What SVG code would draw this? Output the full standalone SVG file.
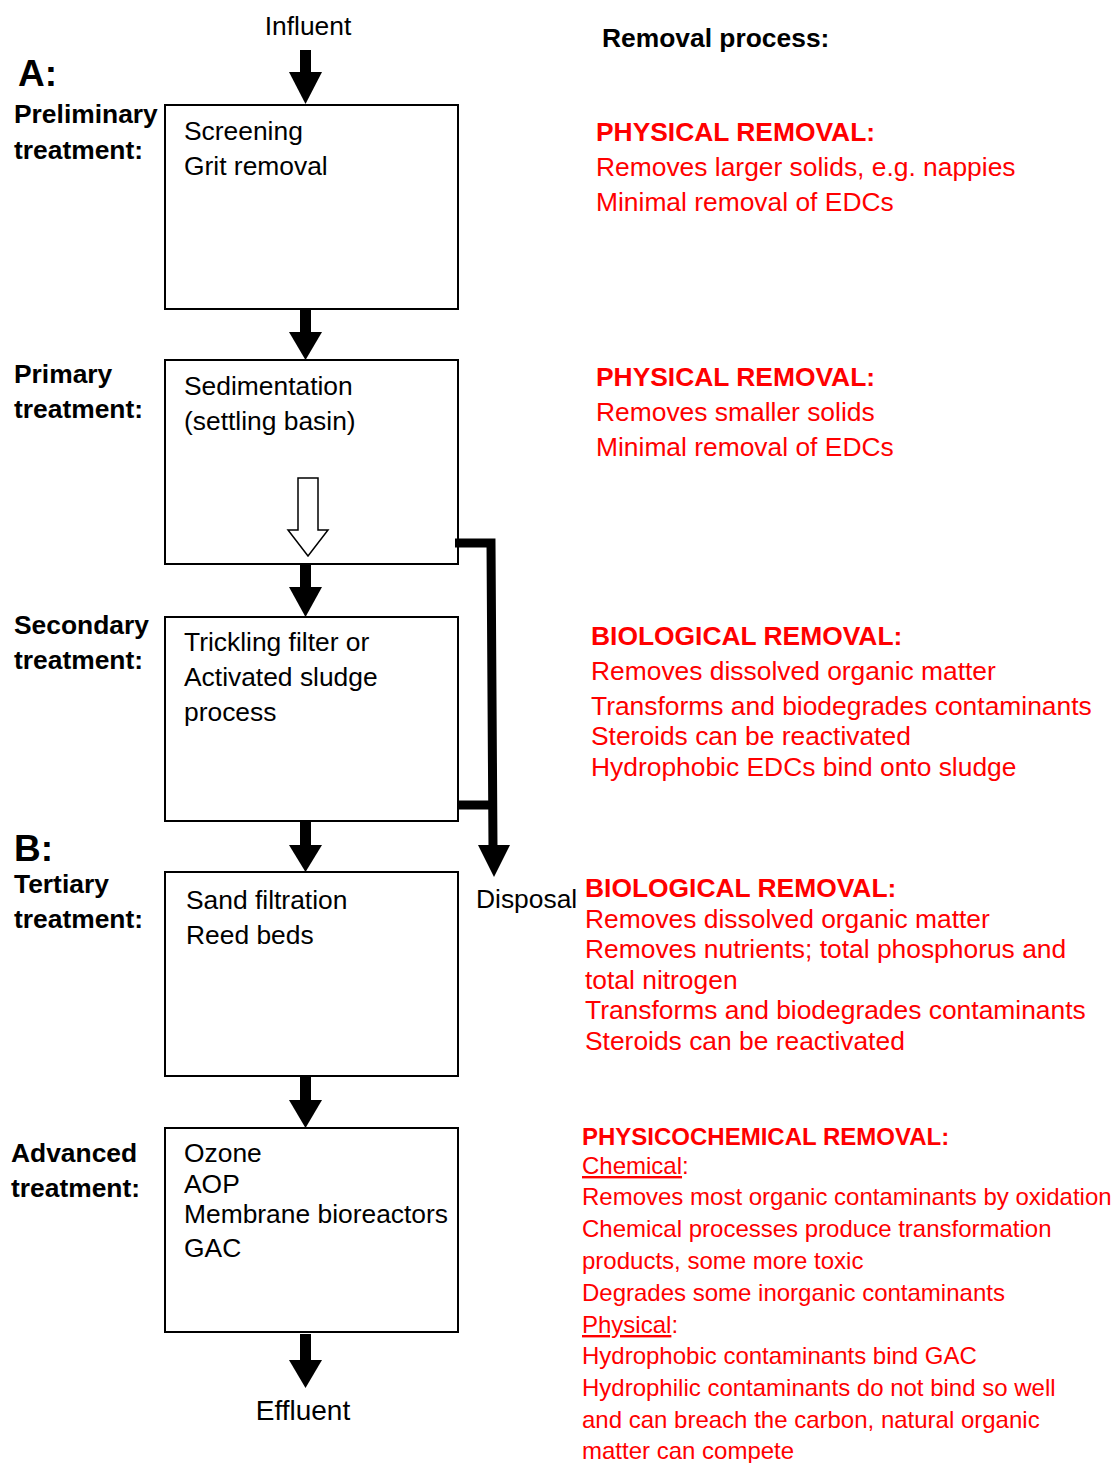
<svg xmlns="http://www.w3.org/2000/svg" width="1114" height="1463" viewBox="0 0 1114 1463">
<defs>
<style>
text{font-family:"Liberation Sans",Arial,sans-serif;font-size:26.4px;fill:#000}
.b{font-weight:bold}
.big{font-size:37px;font-weight:bold}
.r{fill:#ff0000}
.s{font-size:24px}
.box{fill:#fff;stroke:#000;stroke-width:2}
.arr{fill:#000}
.conn{fill:none;stroke:#000;stroke-width:9}
</style>
</defs>
<rect width="1114" height="1463" fill="#fff"/>

<g id="labels">
<text x="308" y="35" text-anchor="middle">Influent</text>
<text x="602" y="47" class="b">Removal process:</text>
<text x="18" y="86" class="big">A:</text>
<text x="14" y="123" class="b">Preliminary</text>
<text x="14" y="159" class="b">treatment:</text>
<text x="14" y="383" class="b">Primary</text>
<text x="14" y="418" class="b">treatment:</text>
<text x="14" y="634" class="b">Secondary</text>
<text x="14" y="669" class="b">treatment:</text>
<text x="14" y="861" class="big">B:</text>
<text x="14" y="893" class="b">Tertiary</text>
<text x="14" y="928" class="b">treatment:</text>
<text x="11" y="1162" class="b">Advanced</text>
<text x="11" y="1197" class="b">treatment:</text>
<text x="303" y="1420" text-anchor="middle" style="font-size:28px">Effluent</text>
<text x="476" y="908">Disposal</text>
</g>

<g id="node-preliminary">
<rect class="box" x="165" y="105" width="293" height="204"/>
<text x="184" y="140">Screening</text>
<text x="184" y="175">Grit removal</text>
</g>

<g id="node-primary">
<rect class="box" x="165" y="360" width="293" height="204"/>
<text x="184" y="395">Sedimentation</text>
<text x="184" y="430">(settling basin)</text>
<polygon points="298,478 318,478 318,530 328,530 308,556 288,530 298,530" fill="#fff" stroke="#000" stroke-width="1.5"/>
</g>

<g id="node-secondary">
<rect class="box" x="165" y="617" width="293" height="204"/>
<text x="184" y="651">Trickling filter or</text>
<text x="184" y="686">Activated sludge</text>
<text x="184" y="721">process</text>
</g>

<g id="node-tertiary">
<rect class="box" x="165" y="872" width="293" height="204"/>
<text x="186" y="909">Sand filtration</text>
<text x="186" y="944">Reed beds</text>
</g>

<g id="node-advanced">
<rect class="box" x="165" y="1128" width="293" height="204"/>
<text x="184" y="1162">Ozone</text>
<text x="184" y="1193">AOP</text>
<text x="184" y="1223">Membrane bioreactors</text>
<text x="184" y="1257">GAC</text>
</g>

<g id="connectors">
<rect class="arr" x="300" y="50" width="11" height="24"/>
<polygon class="arr" points="289,72 322,72 305.5,104"/>
<rect class="arr" x="300" y="310" width="11" height="24"/>
<polygon class="arr" points="289,332 322,332 305.5,360"/>
<rect class="arr" x="300" y="565" width="11" height="24"/>
<polygon class="arr" points="289,587 322,587 305.5,617"/>
<rect class="arr" x="300" y="822" width="11" height="25"/>
<polygon class="arr" points="289,845 322,845 305.5,872"/>
<rect class="arr" x="300" y="1077" width="11" height="25"/>
<polygon class="arr" points="289,1100 322,1100 305.5,1128"/>
<rect class="arr" x="300" y="1334" width="11" height="28"/>
<polygon class="arr" points="289,1360 322,1360 305.5,1388"/>
<polyline class="conn" points="455,543 491,543 493,848"/>
<line class="conn" x1="458" y1="805" x2="492" y2="805"/>
<polygon class="arr" points="478,845 510,845 494,877"/>
</g>

<g id="removal-text">
<text x="596" y="141" class="b r">PHYSICAL REMOVAL:</text>
<text x="596" y="176" class="r">Removes larger solids, e.g. nappies</text>
<text x="596" y="211" class="r">Minimal removal of EDCs</text>

<text x="596" y="386" class="b r">PHYSICAL REMOVAL:</text>
<text x="596" y="421" class="r">Removes smaller solids</text>
<text x="596" y="456" class="r">Minimal removal of EDCs</text>

<text x="591" y="645" class="b r">BIOLOGICAL REMOVAL:</text>
<text x="591" y="680" class="r">Removes dissolved organic matter</text>
<text x="591" y="715" class="r">Transforms and biodegrades contaminants</text>
<text x="591" y="745" class="r">Steroids can be reactivated</text>
<text x="591" y="776" class="r">Hydrophobic EDCs bind onto sludge</text>

<text x="585" y="897" class="b r">BIOLOGICAL REMOVAL:</text>
<text x="585" y="928" class="r">Removes dissolved organic matter</text>
<text x="585" y="958" class="r">Removes nutrients; total phosphorus and</text>
<text x="585" y="989" class="r">total nitrogen</text>
<text x="585" y="1019" class="r">Transforms and biodegrades contaminants</text>
<text x="585" y="1050" class="r">Steroids can be reactivated</text>

<text x="582" y="1145" class="b r s">PHYSICOCHEMICAL REMOVAL:</text>
<text x="582" y="1174" class="r s"><tspan text-decoration="underline">Chemical</tspan>:</text>
<text x="582" y="1205" class="r s">Removes most organic contaminants by oxidation</text>
<text x="582" y="1237" class="r s">Chemical processes produce transformation</text>
<text x="582" y="1269" class="r s">products, some more toxic</text>
<text x="582" y="1301" class="r s">Degrades some inorganic contaminants</text>
<text x="582" y="1333" class="r s"><tspan text-decoration="underline">Physical</tspan>:</text>
<text x="582" y="1364" class="r s">Hydrophobic contaminants bind GAC</text>
<text x="582" y="1396" class="r s">Hydrophilic contaminants do not bind so well</text>
<text x="582" y="1428" class="r s">and can breach the carbon, natural organic</text>
<text x="582" y="1459" class="r s">matter can compete</text>
</g>
</svg>
